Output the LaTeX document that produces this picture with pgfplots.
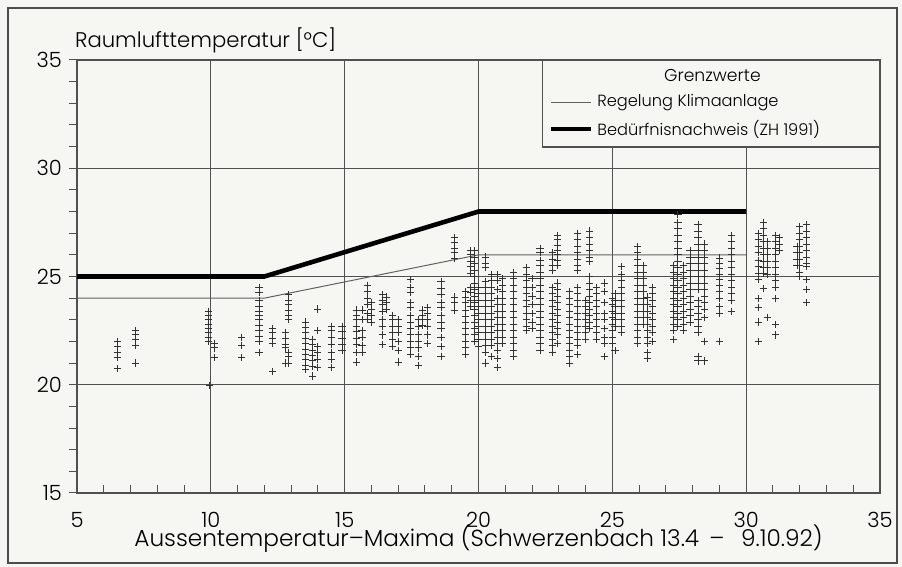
\documentclass[border=0pt]{standalone}
\usepackage{pgfplots}
\pgfplotsset{compat=1.18}
\usepackage{fontspec}
\setmainfont{Poppins}[UprightFont={* Light}]
\definecolor{bg}{RGB}{246,246,243}
\definecolor{gridc}{RGB}{80,80,80}
\definecolor{thick}{RGB}{45,40,36}
\begin{document}
\begin{tikzpicture}
\fill[bg] (0,0) rectangle (451pt,283.5pt);
\useasboundingbox (0,0) rectangle (451pt,283.5pt);
\draw[black!70,line width=0.6pt] (4pt,2pt) rectangle (448.5pt,279.5pt);
\begin{axis}[
  at={(38.5pt,37pt)}, anchor=south west,
  scale only axis, width=401.5pt, height=216.5pt,
  xmin=5, xmax=35, ymin=15, ymax=35,
  xtick={5,10,...,35}, ytick={15,20,...,35},
  minor x tick num=4, minor y tick num=4,
  xtick pos=bottom, ytick pos=left,
  tick align=inside,
  major tick length=4pt, minor tick length=4pt,
  ytick style={xshift=-4pt},
  every tick/.style={gridc, line width=0.5pt},
  grid=major,
  major grid style={gridc, line width=0.5pt},
  axis line style={gridc, line width=0.6pt},
  /pgf/number format/assume math mode=true,
  ticklabel style={font=\fontsize{10.5}{12}\selectfont},
  yticklabel style={xshift=-4pt},
  xticklabel style={yshift=-6pt},
  xlabel={Aussentemperatur--Maxima (Schwerzenbach 13.4 \,--\,\ \ 9.10.92)},
  xlabel style={at={(axis description cs:0.5,0)}, anchor=base, yshift=-27pt, font=\fontsize{11.6}{13}\selectfont},
  ylabel={Raumlufttemperatur [°C]},
  ylabel style={at={(axis description cs:0,1)}, rotate=-90, anchor=base west, xshift=-4.5pt, yshift=6pt, font=\fontsize{10.6}{13}\selectfont},
  legend style={at={(rel axis cs:1,1)}, anchor=north east, draw=gridc, line width=0.6pt,
    fill=bg, font=\fontsize{8.1}{9}\selectfont, inner xsep=3pt, inner ysep=2.5pt, row sep=1pt,
    column 2/.style={text height=6.3pt, text depth=2pt, inner ysep=2pt}},
  legend cell align=left,
  legend image code/.code={\draw[#1] (0pt,0pt) -- (20pt,0pt);},
]
\addlegendimage{empty legend}
\addlegendentry{\makebox[115pt][c]{\fontsize{8.6}{9}\selectfont Grenzwerte}}
\addplot[only marks, mark=+, mark size=1.8pt, black!80, line width=0.45pt, forget plot] coordinates {
(6.5,22.0) (6.5,21.75) (6.5,21.5) (6.5,21.25) (6.5,20.75)
(7.2,22.5) (7.2,22.3) (7.2,22.1) (7.2,21.8) (7.2,21.0)
(9.9,23.4) (9.9,23.2) (9.9,23.0) (9.9,22.8) (9.9,22.6) (9.9,22.4) (9.9,22.2) (9.9,22.0) (9.95,19.95)
(10.15,21.9) (10.15,21.7) (10.15,21.25)
(11.15,22.2) (11.15,21.8) (11.15,21.25)
(11.8,24.5) (11.8,24.25) (11.8,23.9) (11.8,23.6) (11.8,23.4) (11.8,23.2) (11.8,23.0) (11.8,22.75) (11.8,22.5) (11.8,22.25) (11.8,22.0) (11.8,21.5)
(12.3,22.6) (12.3,22.4) (12.3,22.15) (12.3,21.9) (12.3,20.6)
(12.8,22.4) (12.8,22.15) (12.8,21.85) (12.8,21.7) (12.8,21.0)
(12.9,24.15) (12.9,23.9) (12.9,23.7) (12.9,23.45) (12.9,23.2) (12.9,23.0) (12.9,21.5) (12.9,21.3) (12.9,21.0)
(13.55,22.9) (13.55,22.65) (13.55,22.4) (13.55,22.15) (13.55,21.9) (13.55,21.65) (13.55,21.4) (13.55,21.15) (13.55,20.9) (13.55,20.7)
(13.8,22.1) (13.8,21.85) (13.8,21.6) (13.8,21.35) (13.8,21.1) (13.8,20.85) (13.8,20.4)
(14.0,23.5) (14.0,22.5) (14.0,21.75) (14.0,21.5) (14.0,21.15) (14.0,20.8)
(14.5,22.7) (14.5,22.5) (14.5,22.2) (14.5,21.85) (14.5,21.5) (14.5,21.15) (14.5,20.8)
(14.9,22.7) (14.9,22.45) (14.9,22.15) (14.9,21.85) (14.9,21.6)
(15.45,23.45) (15.45,23.2) (15.45,23.0) (15.45,22.7) (15.45,22.45) (15.45,22.15) (15.45,21.85) (15.45,21.5) (15.45,21.05)
(15.65,23.45) (15.65,23.0) (15.65,22.5) (15.65,22.2) (15.65,21.8) (15.65,21.5)
(15.85,24.6) (15.85,24.3) (15.85,24.0) (15.85,23.7) (15.85,23.3) (15.85,23.0)
(16.0,23.8) (16.0,23.5) (16.0,23.2) (16.0,22.9)
(16.4,24.15) (16.4,23.9) (16.4,23.7) (16.4,23.4) (16.4,23.0) (16.4,22.7) (16.4,22.3) (16.4,21.85)
(16.55,24.05) (16.55,23.8) (16.55,23.5)
(16.8,23.2) (16.8,23.0) (16.8,22.7) (16.8,22.4) (16.8,22.1) (16.8,21.75)
(17.0,23.0) (17.0,22.7) (17.0,22.4) (17.0,22.0) (17.0,21.6) (17.0,21.05)
(17.45,24.85) (17.45,24.5) (17.45,24.25) (17.45,23.8) (17.45,23.55) (17.45,23.2) (17.45,22.9) (17.45,22.6) (17.45,22.3) (17.45,22.0) (17.45,21.7) (17.45,21.4)
(17.75,23.0) (17.75,22.7) (17.75,22.3) (17.75,22.0) (17.75,21.7) (17.75,21.3) (17.75,20.9)
(17.9,23.45) (17.9,23.2) (17.9,23.0) (17.9,22.75)
(18.1,23.55) (18.1,23.3) (18.1,23.0) (18.1,22.7) (18.1,22.3) (18.1,21.9)
(18.6,24.75) (18.6,24.45) (18.6,24.15) (18.6,23.8) (18.6,23.55) (18.6,23.2) (18.6,22.9) (18.6,22.6) (18.6,22.2) (18.6,21.75) (18.6,21.3)
(19.1,26.8) (19.1,26.55) (19.1,26.3) (19.1,26.1) (19.1,25.85) (19.1,24.05) (19.1,23.8) (19.1,23.45)
(19.5,24.3) (19.5,24.05) (19.5,23.8) (19.5,23.45) (19.5,23.15) (19.5,22.9) (19.5,22.6) (19.5,22.3) (19.5,22.0) (19.5,21.7) (19.5,21.4)
(19.7,26.2) (19.7,26.0) (19.7,25.7) (19.7,25.45) (19.7,25.15) (19.7,24.5) (19.7,24.25) (19.7,23.9) (19.7,23.6)
(19.85,26.2) (19.85,25.9) (19.85,25.6) (19.85,25.3) (19.85,25.0) (19.85,24.7) (19.85,24.4) (19.85,24.1) (19.85,23.8) (19.85,23.5) (19.85,23.2) (19.85,22.9) (19.85,22.6) (19.85,22.3) (19.85,22.0)
(20.0,24.5) (20.0,24.2) (20.0,23.9) (20.0,23.6) (20.0,23.3) (20.0,23.0) (20.0,22.7) (20.0,22.4) (20.0,22.1) (20.0,21.75)
(20.25,25.9) (20.25,25.6) (20.25,25.4) (20.25,24.75) (20.25,24.5) (20.25,24.2) (20.25,23.9) (20.25,23.6) (20.25,23.3) (20.25,23.0) (20.25,22.7) (20.25,22.4) (20.25,22.1) (20.25,21.8) (20.25,21.5) (20.25,21.0)
(20.5,25.1) (20.5,24.8) (20.5,24.5) (20.5,24.2) (20.5,23.9) (20.5,23.6) (20.5,23.3) (20.5,23.0) (20.5,22.7) (20.5,22.4) (20.5,22.1) (20.5,21.8) (20.5,21.3)
(20.7,25.1) (20.7,24.8) (20.7,24.4) (20.7,24.0) (20.7,23.7) (20.7,23.4) (20.7,23.1) (20.7,22.8) (20.7,22.5) (20.7,22.2) (20.7,21.9) (20.7,21.6) (20.7,21.2) (20.7,20.8)
(20.9,24.9) (20.9,24.6) (20.9,24.3) (20.9,24.0) (20.9,23.7) (20.9,23.4) (20.9,23.1) (20.9,22.8) (20.9,22.5) (20.9,22.2) (20.9,21.9)
(21.3,25.2) (21.3,24.9) (21.3,24.6) (21.3,24.3) (21.3,24.0) (21.3,23.7) (21.3,23.4) (21.3,23.1) (21.3,22.8) (21.3,22.5) (21.3,22.2) (21.3,21.9) (21.3,21.6) (21.3,21.3)
(21.8,25.4) (21.8,25.1) (21.8,24.8) (21.8,24.5) (21.8,24.2) (21.8,23.9) (21.8,23.6) (21.8,23.3) (21.8,23.0) (21.8,22.7) (21.8,22.5)
(22.0,24.9) (22.0,24.5) (22.0,24.1) (22.0,23.7) (22.0,23.3) (22.0,22.9) (22.0,22.6)
(22.3,26.3) (22.3,26.1) (22.3,25.75) (22.3,25.5) (22.3,25.2) (22.3,24.9) (22.3,24.6) (22.3,24.3) (22.3,24.0) (22.3,23.7) (22.3,23.4) (22.3,23.1) (22.3,22.8) (22.3,22.5) (22.3,22.2) (22.3,21.9) (22.3,21.6)
(22.75,26.1) (22.75,25.8) (22.75,25.5) (22.75,25.3) (22.75,24.5) (22.75,24.2) (22.75,23.9) (22.75,23.6) (22.75,23.3) (22.75,23.0) (22.75,22.7) (22.75,22.4) (22.75,22.1) (22.75,21.8) (22.75,21.5)
(22.95,26.9) (22.95,26.7) (22.95,26.45) (22.95,26.2) (22.95,26.0) (22.95,25.75) (22.95,25.5) (22.95,24.7) (22.95,24.4) (22.95,24.1) (22.95,23.8) (22.95,23.5) (22.95,23.2) (22.95,22.9) (22.95,22.6) (22.95,22.3) (22.95,21.9)
(23.4,24.3) (23.4,24.0) (23.4,23.7) (23.4,23.4) (23.4,23.1) (23.4,22.8) (23.4,22.5) (23.4,22.2) (23.4,21.9) (23.4,21.6) (23.4,21.3) (23.4,21.0)
(23.7,27.0) (23.7,26.7) (23.7,26.4) (23.7,26.1) (23.7,25.8) (23.7,25.5) (23.7,25.3) (23.7,24.5) (23.7,24.2) (23.7,23.9) (23.7,23.6) (23.7,23.3) (23.7,23.0) (23.7,22.7) (23.7,22.4) (23.7,22.1) (23.7,21.8) (23.7,21.4)
(24.0,23.9) (24.0,23.6) (24.0,23.3) (24.0,23.0) (24.0,22.7) (24.0,22.4) (24.0,22.1)
(24.15,27.1) (24.15,26.8) (24.15,26.5) (24.15,26.2) (24.15,25.9) (24.15,25.7) (24.15,25.0) (24.15,24.7) (24.15,24.4) (24.15,24.1) (24.15,23.8) (24.15,23.5) (24.15,23.2) (24.15,22.9) (24.15,22.6)
(24.4,24.5) (24.4,24.2) (24.4,23.9) (24.4,23.6) (24.4,23.3) (24.4,23.0) (24.4,22.7) (24.4,22.4) (24.4,22.1)
(24.7,24.7) (24.7,24.3) (24.7,23.8) (24.7,23.3) (24.7,23.0) (24.7,22.6) (24.7,22.2) (24.7,21.9) (24.7,21.3)
(25.0,24.0) (25.0,23.7) (25.0,23.4) (25.0,23.1) (25.0,22.8) (25.0,22.5) (25.0,22.2) (25.0,21.9)
(25.1,24.2) (25.1,23.9) (25.1,23.6) (25.1,23.3) (25.1,23.0) (25.1,22.7) (25.1,21.6)
(25.35,25.45) (25.35,25.1) (25.35,24.8) (25.35,24.5) (25.35,24.2) (25.35,23.9) (25.35,23.6) (25.35,23.3) (25.35,23.0) (25.35,22.7) (25.35,22.4)
(25.95,26.4) (25.95,26.1) (25.95,25.8) (25.95,25.5) (25.95,25.2) (25.95,24.9) (25.95,24.6) (25.95,24.3) (25.95,24.0) (25.95,23.7) (25.95,23.4) (25.95,23.1) (25.95,22.8) (25.95,22.5) (25.95,22.2) (25.95,21.9)
(26.15,25.5) (26.15,25.2) (26.15,24.9) (26.15,24.6) (26.15,24.3) (26.15,24.0) (26.15,23.7) (26.15,23.4) (26.15,23.1) (26.15,22.8)
(26.3,24.05) (26.3,23.7) (26.3,23.4) (26.3,23.1) (26.3,22.8) (26.3,22.5) (26.3,22.2) (26.3,21.9) (26.3,21.5) (26.3,21.2)
(26.5,24.5) (26.5,24.2) (26.5,23.9) (26.5,23.6) (26.5,23.3) (26.5,23.0) (26.5,22.7) (26.5,22.4) (26.5,22.0)
(27.3,25.5) (27.3,25.2) (27.3,24.9) (27.3,24.6) (27.3,24.3) (27.3,24.0) (27.3,23.7) (27.3,23.4) (27.3,23.1) (27.3,22.8) (27.3,22.5) (27.3,22.1)
(27.45,27.85) (27.45,27.5) (27.45,27.2) (27.45,26.9) (27.45,26.6) (27.45,26.3) (27.45,26.0) (27.45,25.7) (27.45,25.4) (27.45,25.1) (27.45,24.8) (27.45,24.5) (27.45,24.2) (27.45,23.9) (27.45,23.6) (27.45,23.3) (27.45,23.0) (27.45,22.7)
(27.65,25.5) (27.65,25.2) (27.65,24.9) (27.65,24.6) (27.65,24.3) (27.65,24.0) (27.65,23.7) (27.65,23.4) (27.65,23.1) (27.65,22.8) (27.65,22.5)
(27.9,26.2) (27.9,25.9) (27.9,25.6) (27.9,25.3) (27.9,25.0) (27.9,24.7) (27.9,24.4) (27.9,24.1) (27.9,23.8) (27.9,23.5) (27.9,23.2) (27.9,22.9)
(28.2,27.4) (28.2,27.1) (28.2,26.8) (28.2,26.5) (28.2,26.2) (28.2,25.9) (28.2,25.6) (28.2,25.3) (28.2,25.0) (28.2,24.7) (28.2,24.4) (28.2,23.9) (28.2,23.6) (28.2,23.3) (28.2,23.0) (28.2,22.7) (28.2,22.4) (28.2,21.3) (28.2,21.1)
(28.45,26.5) (28.45,26.2) (28.45,25.9) (28.45,25.6) (28.45,25.3) (28.45,25.0) (28.45,24.7) (28.45,24.4) (28.45,24.1) (28.45,23.8) (28.45,23.5) (28.45,23.1) (28.45,22.0) (28.45,21.1)
(29.0,25.85) (29.0,25.6) (29.0,25.35) (29.0,25.1) (29.0,24.85) (29.0,24.6) (29.0,24.3) (29.0,24.0) (29.0,23.6) (29.0,23.3) (29.0,22.0)
(29.45,26.9) (29.45,26.6) (29.45,26.3) (29.45,26.0) (29.45,25.7) (29.45,25.4) (29.45,25.1) (29.45,24.8) (29.45,24.5) (29.45,24.2) (29.45,23.9) (29.45,23.4)
(30.45,27.0) (30.45,26.7) (30.45,26.4) (30.45,26.1) (30.45,25.75) (30.45,25.45) (30.45,25.15) (30.45,24.85) (30.45,24.0) (30.45,23.55) (30.45,22.9) (30.45,22.0)
(30.65,27.5) (30.65,27.2) (30.65,26.9) (30.65,26.6) (30.65,26.3) (30.65,26.0) (30.65,25.7) (30.65,25.4) (30.65,25.15) (30.65,24.45)
(30.8,26.6) (30.8,26.3) (30.8,26.0) (30.8,25.7) (30.8,25.4) (30.8,25.1) (30.8,23.1)
(31.1,26.9) (31.1,26.6) (31.1,26.3) (31.1,26.0) (31.1,25.7) (31.1,25.4) (31.1,25.1) (31.1,24.8) (31.1,24.5) (31.1,24.0) (31.1,22.8) (31.1,22.3)
(31.25,26.8) (31.25,26.5) (31.25,26.2)
(31.9,26.4) (31.9,26.1) (31.9,25.8) (31.9,25.5)
(32.0,27.3) (32.0,27.0) (32.0,26.7) (32.0,26.4) (32.0,26.1) (32.0,25.8) (32.0,25.5) (32.0,25.2) (32.0,25.0)
(32.25,27.4) (32.25,27.1) (32.25,26.8) (32.25,26.5) (32.25,26.2) (32.25,25.9) (32.25,25.6) (32.25,25.45) (32.25,24.85) (32.25,24.4) (32.25,23.8)
};
\addplot[gridc!90, line width=0.5pt] coordinates {(5,24) (12,24) (20,26) (30,26)};
\addlegendentry{Regelung Klimaanlage}
\addplot[thick, line width=2.3pt] coordinates {(5,25) (12,25) (20,28) (30,28)};
\addlegendentry{\makebox[136pt][l]{Bedürfnisnachweis (ZH 1991)}}
\end{axis}
\end{tikzpicture}
\end{document}
